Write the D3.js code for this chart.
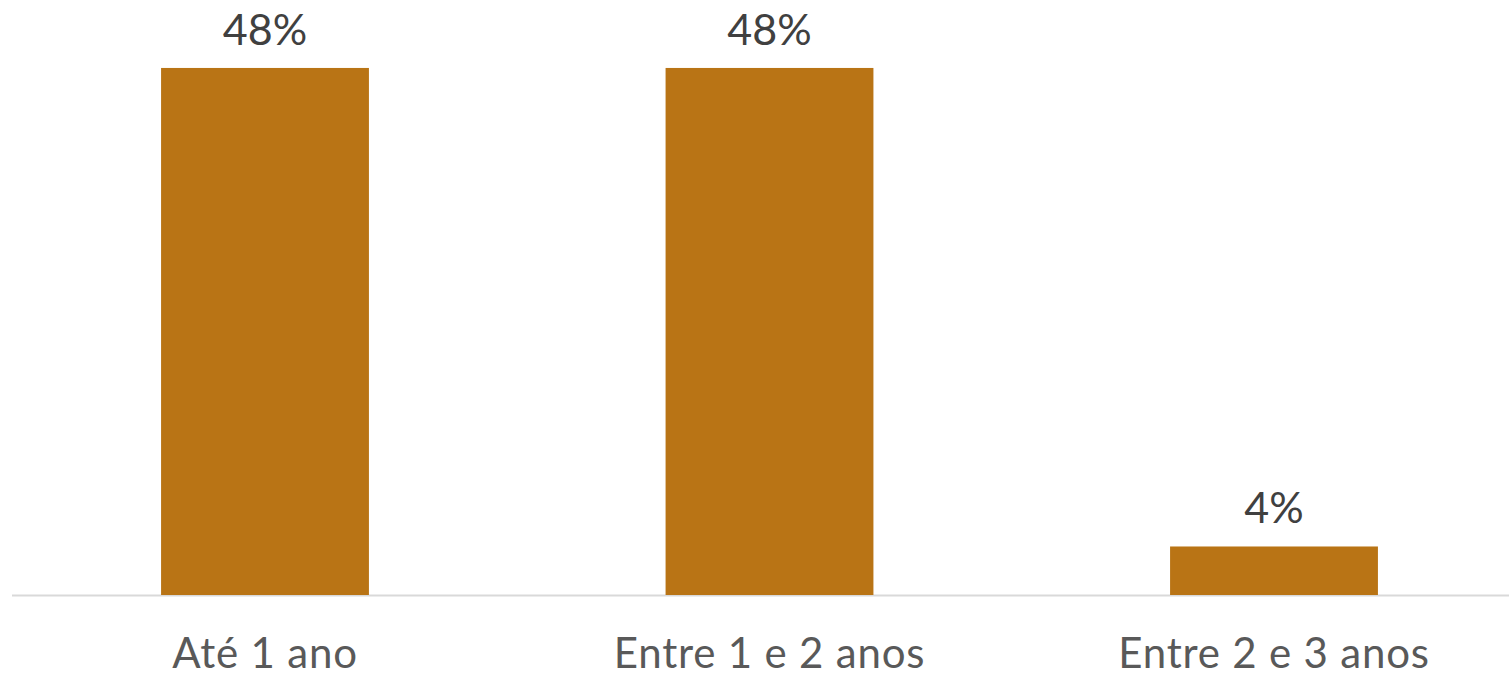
<!DOCTYPE html>
<html><head><meta charset="utf-8">
<script src="https://cdn.jsdelivr.net/npm/d3@7"></script>
<style>html,body{margin:0;padding:0;background:#fff;overflow:hidden}</style>
</head><body>
<svg id="chart" width="1509" height="677"></svg>
<script>
const categories = ["Até 1 ano", "Entre 1 e 2 anos", "Entre 2 e 3 anos"];
const values = [47.8, 47.8, 4.4];
const valueLabels = ["48%", "48%", "4%"];

const svg = d3.select("#chart");
const W = 1509, H = 677;
const x = d3.scaleBand().domain(categories).range([12.75, 1526.25]).paddingInner(0.588).paddingOuter(0.294);
const y = d3.scaleLinear().domain([0, 50]).range([595, 43.7]);

svg.append("line").attr("x1", 12).attr("x2", W).attr("y1", 595.5).attr("y2", 595.5)
  .attr("stroke", "#d9d9d9").attr("stroke-width", 2);

svg.selectAll("rect.bar").data(values).join("rect").attr("class","bar")
  .attr("x", (d,i) => x(categories[i])).attr("width", x.bandwidth())
  .attr("y", d => y(d)).attr("height", d => y(0) - y(d))
  .attr("fill", "#b97415");

svg.selectAll("text.val").data(values).join("text").attr("class","val")
  .attr("x", (d,i) => x(categories[i]) + x.bandwidth()/2)
  .attr("y", d => y(d) - 23)
  .attr("text-anchor", "middle")
  .attr("font-family", "Lato, 'Open Sans', sans-serif").attr("font-size", 43)
  .attr("fill", "#404040")
  .text((d,i) => valueLabels[i]);

svg.selectAll("text.cat").data(categories).join("text").attr("class","cat")
  .attr("x", d => x(d) + x.bandwidth()/2)
  .attr("y", 668)
  .attr("text-anchor", "middle")
  .attr("font-family", "Lato, 'Open Sans', sans-serif").attr("font-size", 42)
  .attr("letter-spacing", "0.8px")
  .attr("fill", "#595959")
  .text(d => d);
</script>
</body></html>
